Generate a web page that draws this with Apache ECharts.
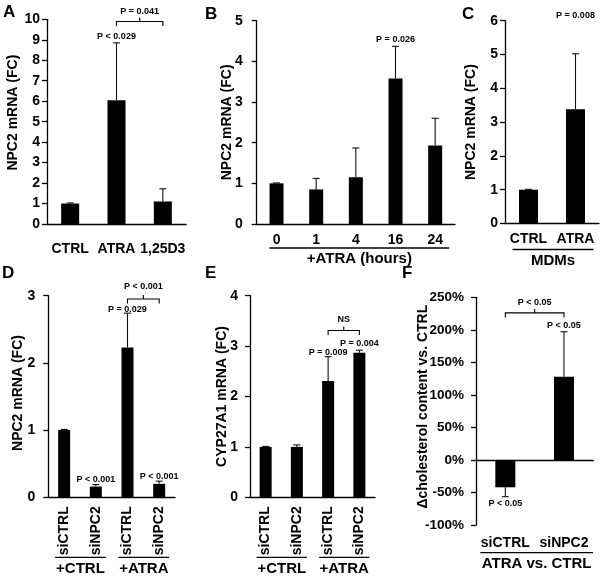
<!DOCTYPE html>
<html><head><meta charset="utf-8">
<script src="https://cdn.jsdelivr.net/npm/echarts@6/dist/echarts.min.js"></script>
<style>html,body{margin:0;padding:0;background:#fff}#c{width:600px;height:577px}</style>
</head><body><div id="c"></div><script>
// ---------- DATA ----------
// Panel A
const aCats  = ['CTRL', 'ATRA', '1,25D3'];
const aMeans = [1.0, 6.05, 1.1];
const aUpper = [1.03, 8.85, 1.72];
const aRange = [0, 10, 1];
const aNotes = [{cat: 1, y: 9.18, text: 'P < 0.029'}];
const aBrackets = [{from: 1, to: 2, y: 9.89, ty: 10.38, text: 'P = 0.041'}];
// Panel B
const bCats  = ['0', '1', '4', '16', '24'];
const bMeans = [1.0, 0.85, 1.15, 3.58, 1.93];
const bUpper = [1.01, 1.12, 1.87, 4.37, 2.6];
const bRange = [0, 5, 1];
const bNotes = [{cat: 3, y: 4.53, text: 'P = 0.026'}];
const bGroups = [{from: 0, to: 4, text: '+ATRA (hours)'}];
// Panel C
const cCats  = ['CTRL', 'ATRA'];
const cMeans = [1.0, 3.38];
const cUpper = [1.01, 5.02];
const cRange = [0, 6, 1];
const cNotes = [{cat: 1, y: 6.16, text: 'P = 0.008'}];
const cGroups = [{from: 0, to: 1, text: 'MDMs'}];
// Panel D
const dCats  = ['siCTRL', 'siNPC2', 'siCTRL', 'siNPC2'];
const dMeans = [1.0, 0.16, 2.23, 0.2];
const dUpper = [1.01, 0.19, 2.74, 0.24];
const dRange = [0, 3, 1];
const dNotes = [{cat: 1, y: 0.27, text: 'P < 0.001'}, {cat: 2, y: 2.80, text: 'P = 0.029'}, {cat: 3, y: 0.31, text: 'P < 0.001'}];
const dBrackets = [{from: 2, to: 3, y: 2.95, ty: 3.14, text: 'P < 0.001'}];
const dGroups = [{from: 0, to: 1, text: '+CTRL'}, {from: 2, to: 3, text: '+ATRA'}];
// Panel E
const eCats  = ['siCTRL', 'siNPC2', 'siCTRL', 'siNPC2'];
const eMeans = [1.0, 1.0, 2.31, 2.87];
const eUpper = [1.01, 1.04, 2.79, 2.92];
const eRange = [0, 4, 1];
const eNotes = [{cat: 2, y: 2.88, text: 'P = 0.009'}, {cat: 3, y: 3.05, text: 'P = 0.004'}];
const eBrackets = [{from: 2, to: 3, y: 3.31, ty: 3.52, text: 'NS'}];
const eGroups = [{from: 0, to: 1, text: '+CTRL'}, {from: 2, to: 3, text: '+ATRA'}];
// Panel F (percent)
const fCats  = ['siCTRL', 'siNPC2'];
const fMeans = [-42, 128];
const fErrEnd = [-56.5, 197];
const fRange = [-100, 250, 50];
const fNotes = [{cat: 0, y: -67.7, text: 'P < 0.05'}, {cat: 1, y: 206, text: 'P < 0.05'}];
const fBrackets = [{from: 0, to: 1, y: 226, ty: 242, text: 'P < 0.05'}];
const fGroups = [{from: 0, to: 1, text: 'ATRA vs. CTRL'}];

// ---------- LAYOUT / STYLE ----------
const FONT = '"Liberation Sans", Arial, Helvetica, sans-serif';
const panels = [
  {letter: 'A', lpos: [3, 4], cats: aCats, means: aMeans, upper: aUpper, range: aRange, notes: aNotes, brackets: aBrackets, groups: [],
   yName: 'NPC2 mRNA (FC)', namePad: 18, grid: {left: 47, top: 19.3, width: 139, height: 204.7}, barWidth: 18,
   nameGap: 27, labelGap: 7, xMargin: 18, xRotate: 0, xFont: 14, ext: [0, 0], grpLine: 0, grpText: 0},
  {letter: 'B', lpos: [205, 6], cats: bCats, means: bMeans, upper: bUpper, range: bRange, notes: bNotes, brackets: [], groups: bGroups,
   yName: 'NPC2 mRNA (FC)', namePad: 0, grid: {left: 256.7, top: 20.7, width: 198.3, height: 203.3}, barWidth: 14,
   nameGap: 23, labelGap: 14, xMargin: 9, xRotate: 0, xFont: 14, ext: [-7, 14], grpLine: 24, grpText: 35},
  {letter: 'C', lpos: [462, 6], cats: cCats, means: cMeans, upper: cUpper, range: cRange, notes: cNotes, brackets: [], groups: cGroups,
   yName: 'NPC2 mRNA (FC)', namePad: 0, grid: {left: 505, top: 20.7, width: 94, height: 202.8}, barWidth: 19,
   nameGap: 27, labelGap: 7, xMargin: 9, xRotate: 0, xFont: 14, ext: [-16, 18], grpLine: 26, grpText: 37.5},
  {letter: 'D', lpos: [2, 265], cats: dCats, means: dMeans, upper: dUpper, range: dRange, notes: dNotes, brackets: dBrackets, groups: dGroups,
   yName: 'NPC2 mRNA (FC)', namePad: 7, grid: {left: 48.3, top: 295.7, width: 126.7, height: 201.6}, barWidth: 12,
   nameGap: 23, labelGap: 13, xMargin: 9, xRotate: 90, xFont: 14, ext: [-9, 10], grpLine: 60, grpText: 72},
  {letter: 'E', lpos: [205, 265], cats: eCats, means: eMeans, upper: eUpper, range: eRange, notes: eNotes, brackets: eBrackets, groups: eGroups,
   yName: 'CYP27A1 mRNA (FC)', namePad: 0, grid: {left: 250, top: 295.7, width: 125, height: 201.6}, barWidth: 12,
   nameGap: 21, labelGap: 12, xMargin: 9, xRotate: 90, xFont: 14, ext: [-9, 10], grpLine: 60, grpText: 72},
  {letter: 'F', lpos: [402, 265], cats: fCats, means: fMeans, upper: fErrEnd, range: fRange, notes: fNotes, brackets: fBrackets, groups: fGroups,
   yName: '\u0394cholesterol content vs. CTRL', namePad: 9, grid: {left: 476, top: 297.3, width: 117.3, height: 227.7}, barWidth: 20,
   nameGap: 46, labelGap: 12, yFont: 13.5, xMargin: 11, xRotate: 0, xFont: 14, ext: [-25, 29], grpLine: 27.7, grpText: 39,
   splitLabels: true, yFmt: '{value}%'}
];

const option = {animation: false, backgroundColor: '#fff', title: [], grid: [], xAxis: [], yAxis: [], series: []};
const axisLineStyle = {color: '#000', width: 1.3};

panels.forEach((p, i) => {
  option.title.push({text: p.letter, left: p.lpos[0], top: p.lpos[1], padding: 0,
    textStyle: {fontSize: 17, fontWeight: 'bold', fontFamily: FONT, color: '#000'}});
  option.grid.push(Object.assign({outerBoundsMode: 'none', containLabel: false}, p.grid));
  const labelStyle = {show: true, interval: 0, color: '#000', fontFamily: FONT, fontWeight: 'bold',
    fontSize: p.xFont, margin: p.xMargin, rotate: p.xRotate, hideOverlap: false};
  const xi = option.xAxis.length;
  option.xAxis.push({type: 'category', gridIndex: i, data: p.cats, position: 'bottom',
    axisTick: {show: false}, axisLine: {show: true, onZero: true, lineStyle: axisLineStyle},
    axisLabel: p.splitLabels ? {show: false} : labelStyle, splitLine: {show: false}});
  if (p.splitLabels) {
    option.xAxis.push({type: 'category', gridIndex: i, data: p.cats, position: 'bottom',
      axisTick: {show: false}, axisLine: {show: false, onZero: false}, axisLabel: labelStyle, splitLine: {show: false}});
  }
  const yi = option.yAxis.length;
  option.yAxis.push({type: 'value', gridIndex: i, min: p.range[0], max: p.range[1], interval: p.range[2],
    name: p.yName, nameLocation: 'middle', nameRotate: 90, nameGap: p.nameGap, nameMoveOverlap: false,
    nameTextStyle: {fontFamily: FONT, fontWeight: 'bold', fontSize: 14, color: '#000', padding: [0, 0, 0, p.namePad]},
    axisLine: {show: true, onZero: false, lineStyle: axisLineStyle},
    axisTick: {show: true, inside: false, length: 5, lineStyle: axisLineStyle},
    axisLabel: {margin: p.labelGap, color: '#000', fontFamily: FONT, fontWeight: 'bold', fontSize: p.yFont || 14, formatter: p.yFmt || '{value}'},
    splitLine: {show: false}});

  option.series.push({type: 'bar', xAxisIndex: xi, yAxisIndex: yi, data: p.means, barWidth: p.barWidth,
    itemStyle: {color: '#000'}, z: 2});

  // error bars
  option.series.push({type: 'custom', xAxisIndex: xi, yAxisIndex: yi, z: 3, clip: false,
    data: p.means.map((m, k) => [k, m, p.upper[k]]),
    encode: {x: 0, y: [1, 2]},
    renderItem: (params, api) => {
      const x = api.value(0);
      const p0 = api.coord([x, api.value(1)]);
      const p1 = api.coord([x, api.value(2)]);
      const st = {stroke: '#111', lineWidth: 1.1};
      return {type: 'group', children: [
        {type: 'line', shape: {x1: p0[0], y1: p0[1], x2: p1[0], y2: p1[1]}, style: st},
        {type: 'line', shape: {x1: p1[0] - 3.5, y1: p1[1], x2: p1[0] + 3.5, y2: p1[1]}, style: st}
      ]};
    }});

  // annotations: p-values, brackets, group underlines
  const items = [];
  p.notes.forEach(n => items.push({kind: 'note', x: n.cat, y: n.y, n}));
  p.brackets.forEach(b => items.push({kind: 'bracket', x: b.from, y: b.y, b}));
  p.groups.forEach(g => items.push({kind: 'group', x: g.from, y: p.range[0], g}));
  const textStyle = (t, x, y, size, weight) => ({text: t, x, y, align: 'center', verticalAlign: 'middle',
    fontSize: size, fontWeight: weight, fontFamily: FONT, fill: '#000'});
  option.series.push({type: 'custom', xAxisIndex: xi, yAxisIndex: yi, z: 4, clip: false,
    data: items.map(it => [it.x, it.y]), encode: {x: 0, y: 1},
    renderItem: (params, api) => {
      const it = items[params.dataIndex];
      const st = {stroke: '#000', lineWidth: 1.1};
      if (it.kind === 'note') {
        const c = api.coord([it.n.cat, it.n.y]);
        return {type: 'text', style: textStyle(it.n.text, c[0], c[1], 9, 'bold')};
      }
      if (it.kind === 'bracket') {
        const a = api.coord([it.b.from, it.b.y]);
        const b = api.coord([it.b.to, it.b.y]);
        const mx = (a[0] + b[0]) / 2;
        const ty = api.coord([it.b.from, it.b.ty])[1];
        return {type: 'group', children: [
          {type: 'polyline', shape: {points: [[a[0], a[1] + 4.5], [a[0], a[1]], [b[0], b[1]], [b[0], b[1] + 4.5]]}, style: Object.assign({fill: null}, st)},
          {type: 'line', shape: {x1: mx, y1: a[1], x2: mx, y2: a[1] - 4}, style: st},
          {type: 'text', style: textStyle(it.b.text, mx, ty, 9, 'bold')}
        ]};
      }
      const a = api.coord([it.g.from, p.range[0]]);
      const b = api.coord([it.g.to, p.range[0]]);
      const y0 = a[1];
      return {type: 'group', children: [
        {type: 'line', shape: {x1: a[0] + p.ext[0], y1: y0 + p.grpLine, x2: b[0] + p.ext[1], y2: y0 + p.grpLine}, style: {stroke: '#000', lineWidth: 1.3}},
        {type: 'text', style: textStyle(it.g.text, (a[0] + b[0]) / 2 + (p.ext[0] + p.ext[1]) / 2, y0 + p.grpText, 15, 'bold')}
      ]};
    }});
});

const chart = echarts.init(document.getElementById('c'), null, {renderer: 'canvas'});
chart.setOption(option);
</script></body></html>
